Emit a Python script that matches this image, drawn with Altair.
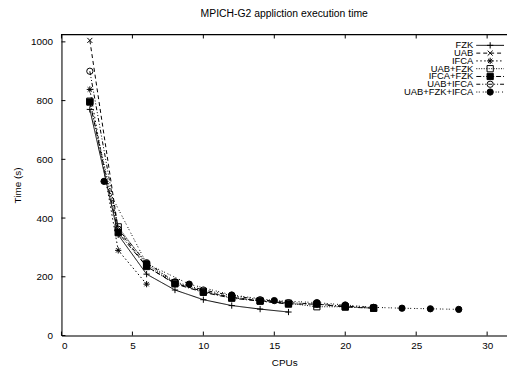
import altair as alt
import pandas as pd

# ---- data ----
series_names = ["FZK", "UAB", "IFCA", "UAB+FZK", "IFCA+FZK", "UAB+IFCA", "UAB+FZK+IFCA"]

fzk_x = [2, 4, 6, 8, 10, 12, 14, 16]
fzk_y = [770, 343, 209, 155, 122, 102, 90, 80]

uab_x = [2, 4, 6, 8, 10, 12, 14, 16]
uab_y = [1005, 360, 235, 178, 150, 130, 118, 110]

ifca_x = [2, 4, 6]
ifca_y = [838, 290, 175]

uab_fzk_x = [2, 4, 6, 8, 10, 12, 14, 16, 18, 20, 22]
uab_fzk_y = [798, 370, 242, 180, 150, 130, 118, 110, 98, 98, 93]

ifca_fzk_x = [2, 4, 6, 8, 10, 12, 14, 16, 18, 20, 22]
ifca_fzk_y = [795, 350, 235, 176, 147, 127, 117, 107, 107, 97, 93]

uab_ifca_x = [2, 4, 6, 8, 10, 12, 14, 16, 18, 20, 22]
uab_ifca_y = [900, 362, 248, 183, 155, 136, 122, 112, 107, 100, 95]

all_x = [3, 6, 9, 12, 15, 18, 20, 22, 24, 26, 28]
all_y = [525, 245, 175, 138, 119, 112, 104, 96, 93, 91, 89]

x_ticks = [0, 5, 10, 15, 20, 25, 30]
y_ticks = [0, 200, 400, 600, 800, 1000]

xs = [fzk_x, uab_x, ifca_x, uab_fzk_x, ifca_fzk_x, uab_ifca_x, all_x]
ys = [fzk_y, uab_y, ifca_y, uab_fzk_y, ifca_fzk_y, uab_ifca_y, all_y]

rows = []
for name, sx, sy in zip(series_names, xs, ys):
    for a, b in zip(sx, sy):
        rows.append({"series": name, "cpus": a, "time": b})
df = pd.DataFrame(rows)
legend_df = pd.DataFrame({"series": series_names})

# ---- styles ----
W, H = 450, 304
FONT = "Liberation Sans"
dashes = [[1, 0], [4, 3], [1.5, 2.5], [1, 1.5], [5, 2, 1, 2], [4, 2, 1, 2, 1, 2], [1, 1.5, 1, 3]]
shapes = [
    "M-1,0L1,0M0,-1L0,1",
    "M-0.8,-0.8L0.8,0.8M-0.8,0.8L0.8,-0.8",
    "M-1,0L1,0M0,-1L0,1M-0.7,-0.7L0.7,0.7M-0.7,0.7L0.7,-0.7",
    "square",
    "square",
    "circle",
    "circle",
]
fills = ["black", "black", "black", "transparent", "black", "transparent", "black"]

xscale = alt.Scale(domain=[0, 31.4], nice=False, zero=False)
yscale = alt.Scale(domain=[0, 1025], nice=False)
dash_scale = alt.Scale(domain=series_names, range=dashes)
shape_scale = alt.Scale(domain=series_names, range=shapes)
fill_scale = alt.Scale(domain=series_names, range=fills)

x_enc = alt.X("cpus:Q", scale=xscale,
              axis=alt.Axis(values=x_ticks, title="CPUs", grid=False, ticks=False,
                            labelPadding=5, titlePadding=7, domainColor="black",
                            labelColor="black", titleColor="black",
                            labelFontSize=10, titleFontSize=10, titleFontWeight="normal",
                            labelFont=FONT, titleFont=FONT))
y_enc = alt.Y("time:Q", scale=yscale,
              axis=alt.Axis(values=y_ticks, format="d", title="Time (s)", grid=False, ticks=False,
                            labelPadding=9, titlePadding=8, domainColor="black",
                            labelColor="black", titleColor="black",
                            labelFontSize=10, titleFontSize=10, titleFontWeight="normal",
                            labelFont=FONT, titleFont=FONT))

lines = alt.Chart(df).mark_line(color="black", strokeWidth=1).encode(
    x=x_enc,
    y=y_enc,
    detail="series:N",
    strokeDash=alt.StrokeDash("series:N", scale=dash_scale, legend=None),
)

points = alt.Chart(df).mark_point(color="black", strokeWidth=1, size=40, opacity=1).encode(
    x=alt.X("cpus:Q", scale=xscale),
    y=alt.Y("time:Q", scale=yscale),
    shape=alt.Shape("series:N", scale=shape_scale, legend=None),
    fill=alt.Fill("series:N", scale=fill_scale, legend=None),
)

xt = pd.DataFrame({"cpus": x_ticks})
yt = pd.DataFrame({"time": y_ticks})

xticks_bottom = alt.Chart(xt).mark_rule(color="black", strokeWidth=1).encode(
    x=alt.X("cpus:Q", scale=xscale), y=alt.value(H), y2=alt.value(H - 4))
xticks_top = alt.Chart(xt).mark_rule(color="black", strokeWidth=1).encode(
    x=alt.X("cpus:Q", scale=xscale), y=alt.value(0), y2=alt.value(4))
yticks_left = alt.Chart(yt).mark_rule(color="black", strokeWidth=1).encode(
    y=alt.Y("time:Q", scale=yscale), x=alt.value(0), x2=alt.value(4))
top_border = alt.Chart(xt).mark_rule(color="black", strokeWidth=1).encode(
    x=alt.value(0), x2=alt.value(W), y=alt.value(0))

main = alt.layer(lines, points, xticks_bottom, xticks_top, yticks_left, top_border)

# ---- legend (gnuplot style: label, then line sample with marker) ----
ly = alt.Y("series:N", scale=alt.Scale(domain=series_names, range=[7, 62], padding=0), axis=None)
leg_text = alt.Chart(legend_df).mark_text(align="right", baseline="middle", font=FONT,
                                          fontSize=9.5).encode(
    x=alt.value(416), y=ly, text="series:N", color=alt.value("black"))
leg_line = alt.Chart(legend_df).mark_rule(color="black", strokeWidth=1).encode(
    x=alt.value(419), x2=alt.value(447), y=ly,
    strokeDash=alt.StrokeDash("series:N", scale=dash_scale, legend=None))
leg_pt = alt.Chart(legend_df).mark_point(color="black", strokeWidth=1, size=40, opacity=1).encode(
    x=alt.value(433), y=ly,
    shape=alt.Shape("series:N", scale=shape_scale, legend=None),
    fill=alt.Fill("series:N", scale=fill_scale, legend=None))
legend = alt.layer(leg_text, leg_line, leg_pt)

chart = alt.layer(main, legend).resolve_scale(y="independent").properties(
    width=W, height=H,
    title=alt.Title("MPICH-G2 appliction execution time", fontSize=10.5, font=FONT,
                    fontWeight="normal", color="black", offset=15),
    autosize=alt.AutoSizeParams(type="none"),
    padding={"left": 54, "top": 25, "right": 0, "bottom": 30},
).configure_view(stroke=None).configure(background="white")

chart.save("out.html", embed_options={"renderer": "svg", "actions": False})
